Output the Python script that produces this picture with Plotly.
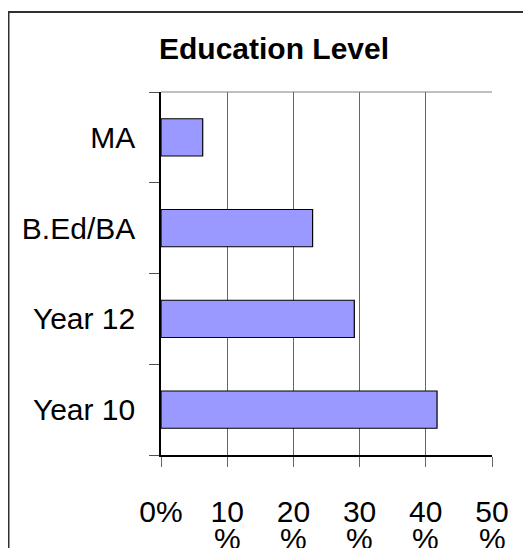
import plotly.graph_objects as go

categories = ["Year 10", "Year 12", "B.Ed/BA", "MA"]
values = [41.7, 29.2, 22.9, 6.3]
tick_vals = [0, 10, 20, 30, 40, 50]
tick_text = ["0%", "10", "20", "30", "40", "50"]
tick_text2 = ["", "%", "%", "%", "%", "%"]

FONT = "Liberation Sans, Arial, sans-serif"
W, H = 531, 548
L, R, T, B = 153, 47, 84, 101
PW, PH = W - L - R, H - T - B

fig = go.Figure()
fig.add_trace(go.Bar(
    x=values, y=categories, orientation="h",
    marker=dict(color="#9999FF", line=dict(color="#000000", width=1.2)),
    hoverinfo="x+y",
))

annotations = []
for v, t in zip(tick_vals, tick_text2):
    if t:
        annotations.append(dict(
            x=v, xref="x", y=0, yref="paper", text=t, showarrow=False,
            yanchor="top", xanchor="center", yshift=-65,
            font=dict(family=FONT, size=30, color="#000000"),
        ))

fig.update_layout(
    width=W, height=H,
    margin=dict(l=L, r=R, t=T, b=B),
    paper_bgcolor="#FFFFFF", plot_bgcolor="#FFFFFF",
    showlegend=False,
    bargap=0.59,
    title=dict(text="<b>Education Level</b>", x=266 / W, xref="container",
               xanchor="center", y=1 - 40 / H, yref="container", yanchor="middle",
               font=dict(family=FONT, size=30, color="#000000")),
    xaxis=dict(range=[0, 50], tickmode="array", tickvals=tick_vals, ticktext=tick_text,
               showgrid=True, gridcolor="#666666", gridwidth=1,
               showline=True, linecolor="#000000", linewidth=1.5,
               ticks="outside", ticklen=10, tickcolor="#666666", tickwidth=1,
               ticklabelstandoff=19,
               tickfont=dict(family=FONT, size=30, color="#000000"),
               zeroline=False, fixedrange=True),
    yaxis=dict(type="category", categoryorder="array", categoryarray=categories,
               tickson="boundaries", ticks="outside", ticklen=10, tickcolor="#505050",
               tickwidth=1, showgrid=False,
               showline=True, linecolor="#000000", linewidth=1.5,
               ticklabelstandoff=18,
               tickfont=dict(family=FONT, size=30, color="#000000"),
               fixedrange=True),
    annotations=annotations,
    shapes=[
        dict(type="line", xref="paper", yref="paper", x0=0, x1=1, y0=1, y1=1,
             line=dict(color="#808080", width=1)),
        dict(type="rect", xref="paper", yref="paper",
             x0=(0.5 - L) / PW, x1=2.0, y0=-1.0, y1=(PH + T - 4) / PH,
             line=dict(color="#303030", width=2), fillcolor="rgba(0,0,0,0)",
             layer="above"),
    ],
)

fig.write_html("out.html")
